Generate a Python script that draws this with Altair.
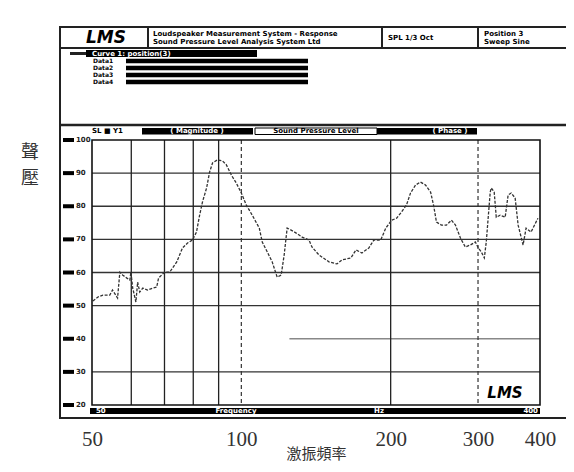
import altair as alt
import pandas as pd

# ---- data ----
freq = [50.2, 51.4, 52.6, 54.3, 55.0, 55.5, 56.3, 56.9, 57.7, 58.8, 59.6, 59.9, 60.4, 61.3,
        61.8, 62.4, 63.3, 64.7, 66.3, 67.5, 68.1, 70.0, 71.7, 74.1, 76.1, 77.9, 79.7, 81.2,
        82.4, 83.5, 85.1, 86.3, 87.5, 89.5, 91.6, 93.3, 95.5, 97.7, 100.0, 102.3, 105.2,
        108.7, 110.2, 112.8, 115.4, 118.1, 120.3, 122.0, 123.7, 126.0, 129.0, 132.6, 136.9,
        138.8, 143.4, 150.2, 155.9, 159.5, 166.3, 170.2, 175.0, 180.7, 185.0, 191.0, 195.5,
        201.0, 205.6, 210.4, 215.3, 219.3, 224.5, 229.7, 235.1, 240.7, 244.0, 247.4, 253.2,
        259.1, 265.2, 270.2, 276.5, 282.8, 289.5, 296.3, 300.4, 304.6, 308.9, 311.7, 317.5,
        319.0, 323.4, 326.5, 332.5, 340.3, 345.0, 349.9, 356.4, 361.4, 369.8, 375.0, 383.7,
        392.6, 396.2]
spl = [51.4, 52.6, 53.2, 53.2, 54.7, 53.8, 52.3, 60.1, 59.2, 58.3, 57.7, 60.1, 55.3, 51.1,
       57.1, 54.1, 55.3, 54.7, 55.3, 55.6, 58.3, 60.1, 60.1, 63.2, 67.4, 68.9, 69.8, 72.2,
       77.3, 81.3, 85.5, 90.3, 93.1, 94.0, 93.7, 92.5, 89.4, 87.0, 84.0, 80.4, 77.3,
       73.4, 69.2, 66.2, 63.2, 58.6, 59.2, 65.3, 73.4, 72.8, 71.9, 70.7, 69.8,
       67.7, 65.3, 63.2, 62.6, 63.8, 64.4, 66.8, 65.9, 67.4, 69.8, 69.8, 73.4,
       75.8, 76.4, 78.3, 80.4, 84.0, 86.4, 87.3, 86.4, 84.3, 80.4, 75.2, 74.3,
       74.3, 75.8, 74.3, 70.4, 67.7, 68.3, 69.2, 67.4, 66.2, 64.4, 69.2, 84.3,
       85.5, 84.3, 76.7, 77.3, 76.7, 83.4, 84.0, 82.5, 74.3, 68.3, 73.4, 72.2,
       75.2, 76.4]

y_ticks = [100, 90, 80, 70, 60, 50, 40, 30, 20]
h_grid = [90, 80, 70, 60, 50, 30]
partial_grid_from = [125]
partial_grid_to = [400]
partial_grid_level = [40]
solid_v = [60, 70, 80, 90, 200]
dashed_v = [100, 300]
x_labels = [50, 100, 200, 300, 400]
data_rows = ["Data1", "Data2", "Data3", "Data4"]

W, H = 448, 265
OX, OY = 92, 140  # plot origin on the page picture

xs = alt.Scale(type="log", domain=[50, 400], nice=False)
ys = alt.Scale(domain=[20, 100], nice=False, zero=False)
xaxis = alt.Axis(values=x_labels, labelFont="Liberation Serif", labelFontSize=21,
                 labelColor="#333", labelPadding=23, domain=False, ticks=False, grid=False,
                 labelFlush=False, labelOverlap=False, format="d",
                 title="激振頻率", titleFont="Noto Sans CJK TC", titleFontSize=15,
                 titleFontWeight="normal", titleColor="#333", titlePadding=-3)

curve_df = pd.DataFrame({"f": freq, "db": spl})

def X(field):
    return alt.X(field, type="quantitative", scale=xs, axis=xaxis)

def Y(field):
    return alt.Y(field, type="quantitative", scale=ys, axis=None)

layers = []
layers.append(alt.Chart(pd.DataFrame({"v": h_grid})).mark_rule(color="#333", strokeWidth=1.3)
              .encode(y=Y("v")))
layers.append(alt.Chart(pd.DataFrame({"f1": partial_grid_from, "f2": partial_grid_to,
                                      "v": partial_grid_level}))
              .mark_rule(color="#888", strokeWidth=1.6)
              .encode(x=X("f1"), x2="f2", y=Y("v")))
layers.append(alt.Chart(pd.DataFrame({"f": solid_v})).mark_rule(color="#222", strokeWidth=1.3)
              .encode(x=X("f")))
layers.append(alt.Chart(pd.DataFrame({"f": dashed_v}))
              .mark_rule(color="#333", strokeWidth=1.2, strokeDash=[4, 3])
              .encode(x=X("f")))
layers.append(alt.Chart(curve_df).mark_line(color="#333", strokeWidth=1.3,
                                            strokeDash=[3, 1.5], interpolate="linear")
              .encode(x=X("f"), y=Y("db")))

one = pd.DataFrame({"k": [0]})

def box(x1, y1, x2, y2, fill="black", stroke=None, sw=1.0):
    kw = {"fill": fill if fill else "transparent"}
    if stroke:
        kw["stroke"] = stroke
        kw["strokeWidth"] = sw
    return alt.Chart(one).mark_rect(**kw).encode(
        x=alt.value(x1 - OX), x2=alt.value(x2 - OX),
        y=alt.value(y1 - OY), y2=alt.value(y2 - OY))

def line(x1, y1, x2, y2, w=2.0, color="#222"):
    return alt.Chart(one).mark_rule(color=color, strokeWidth=w).encode(
        x=alt.value(x1 - OX), x2=alt.value(x2 - OX),
        y=alt.value(y1 - OY), y2=alt.value(y2 - OY))

def txt(x, y, s, size=7, color="black", align="left", weight="bold",
        font="DejaVu Sans", style="normal"):
    return alt.Chart(one).mark_text(text=s, align=align, baseline="middle", fontSize=size,
                                    color=color, fontWeight=weight, font=font,
                                    fontStyle=style).encode(
        x=alt.value(x - OX), y=alt.value(y - OY))

deco = []
# outer frame and header structure
deco.append(box(60, 27, 571, 418, fill=None, stroke="#222", sw=2))
deco.append(line(60, 48, 571, 48, 2))
for dx in [148, 382, 478]:
    deco.append(line(dx, 27, dx, 48, 2))
deco.append(line(60, 125, 571, 125, 2.5))
deco.append(txt(106, 38, "LMS", size=17, style="italic", weight="bold", align="center"))
deco.append(txt(153, 34, "Loudspeaker Measurement System - Response", size=7))
deco.append(txt(153, 42, "Sound Pressure Level Analysis  System Ltd", size=7))
deco.append(txt(388, 38, "SPL  1/3 Oct", size=7))
deco.append(txt(484, 34, "Position 3", size=7))
deco.append(txt(484, 42, "Sweep Sine", size=7))
# curve legend
deco.append(line(70, 53.5, 86, 53.5, 3))
deco.append(box(86, 50, 257, 57))
deco.append(txt(92, 53.5, "Curve 1: position(3)", size=7, color="white"))
for i, name in enumerate(data_rows):
    yy = 61 + 7 * i
    deco.append(txt(93, yy, name, size=6))
    deco.append(box(126, yy - 2.2, 308, yy + 2.2))
# magnitude header row
deco.append(txt(92, 131, "SL ■ Y1", size=7))
deco.append(box(142, 128, 253, 134.5))
deco.append(txt(197, 131.3, "( Magnitude )", size=7, color="white", align="center"))
deco.append(box(255, 128, 377, 134.5, fill="white", stroke="black", sw=1))
deco.append(txt(316, 131.3, "Sound Pressure Level", size=7, align="center"))
deco.append(box(377, 128, 477, 134.5))
deco.append(txt(450, 131.3, "( Phase )", size=7, color="white", align="center"))
# plot frame
deco.append(box(OX, OY, OX + W, OY + H, fill=None, stroke="#111", sw=1.6))
# bottom frequency bar
deco.append(box(90, 408, 540, 414))
deco.append(txt(96, 411.2, "50", size=7, color="white"))
deco.append(txt(236, 411.2, "Frequency", size=7, color="white", align="center"))
deco.append(txt(379, 411.2, "Hz", size=7, color="white", align="center"))
deco.append(txt(538, 411.2, "400", size=7, color="white", align="right"))
# bottom logo
deco.append(txt(505, 393, "LMS", size=15, style="italic", weight="bold", align="center"))
# y tick blocks and labels
ytick_df = pd.DataFrame({"v": y_ticks, "lab": [str(v) for v in y_ticks]})
deco.append(alt.Chart(ytick_df).mark_rule(color="black", strokeWidth=4)
            .encode(x=alt.value(63 - OX), x2=alt.value(74 - OX), y=Y("v")))
deco.append(alt.Chart(ytick_df).mark_text(align="left", baseline="middle", fontSize=7,
                                          fontWeight="bold", font="DejaVu Sans", color="#222")
            .encode(x=alt.value(76 - OX), y=Y("v"), text="lab:N"))
# y title (two stacked characters)
deco.append(txt(30, 153, "聲", size=18, color="#333", align="center", weight="normal",
                font="Noto Sans CJK TC"))
deco.append(txt(30, 179, "壓", size=18, color="#333", align="center", weight="normal",
                font="Noto Sans CJK TC"))

chart = alt.layer(*layers, *deco).properties(
    width=W, height=H,
    padding={"left": 84, "top": 132, "right": 26, "bottom": 59},
    autosize=alt.AutoSizeParams(type="none"),
    background="white",
).configure_view(stroke=None)

chart.save("out.html", embed_options={"renderer": "svg", "actions": False})
